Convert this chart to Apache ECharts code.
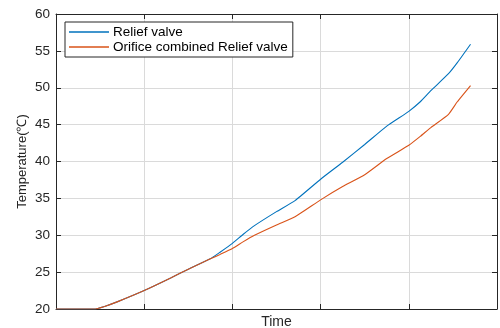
<!DOCTYPE html>
<html>
<head>
<meta charset="utf-8">
<script src="https://cdn.jsdelivr.net/npm/echarts@6/dist/echarts.min.js"></script>
<style>
  html, body { margin: 0; padding: 0; background: #fff; }
  #container { width: 500px; height: 328px; }
</style>
</head>
<body>
<div id="container"></div>
<script>
// time positions (axis has no labels, 0..5)
var timeValues = [0, 0.43, 0.55, 0.7, 1.0, 1.3, 1.5, 1.75, 1.86, 2.0, 2.12, 2.25, 2.5, 2.71, 3.0, 3.25, 3.5, 3.75, 4.0, 4.13, 4.25, 4.45, 4.55, 4.7];
var reliefValve = [20, 20, 20.35, 21.0, 22.5, 24.2, 25.4, 26.8, 27.7, 28.9, 30.1, 31.3, 33.2, 34.7, 37.6, 39.9, 42.3, 44.8, 46.8, 48.1, 49.6, 51.9, 53.4, 55.9];
var orificeRelief = [20, 20, 20.35, 21.0, 22.5, 24.2, 25.4, 26.8, 27.4, 28.2, 29.1, 30.0, 31.4, 32.5, 34.8, 36.6, 38.2, 40.4, 42.2, 43.4, 44.6, 46.4, 48.1, 50.3];
var seriesNames = ['Relief valve', 'Orifice combined Relief valve'];
var yTicks = [20, 25, 30, 35, 40, 45, 50, 55, 60];

function pairs(ys) {
    return timeValues.map(function(t, i) { return [t, ys[i]]; });
}

var font = '"Liberation Sans", Arial, sans-serif';
var axisColor = '#262626';
var gridColor = '#dadada';

var myChart = echarts.init(document.getElementById('container'));
myChart.setOption({
    animation: false,
    textStyle: { fontFamily: font },
    grid: { left: 56, right: 3, top: 14, bottom: 19, outerBoundsMode: 'none', containLabel: false },
    legend: {
        orient: 'vertical',
        left: 65,
        top: 22,
        padding: [3, 5, 3, 4],
        itemGap: 1,
        itemWidth: 40,
        itemHeight: 1.5,
        icon: 'rect',
        borderColor: axisColor,
        borderWidth: 1,
        backgroundColor: '#fff',
        textStyle: { fontFamily: font, fontSize: 13.5, color: '#000', padding: [0, 0, 0, -1] },
        data: seriesNames
    },
    xAxis: [{
        type: 'value',
        min: 0,
        max: 5,
        interval: 1,
        name: 'Time',
        nameLocation: 'middle',
        nameGap: 6,
        nameTextStyle: { fontSize: 14, color: axisColor, verticalAlign: 'top' },
        axisLine: { onZero: false, lineStyle: { color: axisColor, width: 1 } },
        axisTick: { inside: true, length: 5, lineStyle: { color: axisColor } },
        axisLabel: { show: false },
        splitLine: { show: true, lineStyle: { color: gridColor, width: 1 } }
    }, {
        type: 'value',
        position: 'top',
        min: 0,
        max: 5,
        interval: 1,
        axisLine: { onZero: false, lineStyle: { color: axisColor, width: 1 } },
        axisTick: { inside: true, length: 5, lineStyle: { color: axisColor } },
        axisLabel: { show: false },
        splitLine: { show: false }
    }],
    yAxis: [{
        type: 'value',
        min: yTicks[0],
        max: yTicks[yTicks.length - 1],
        interval: 5,
        name: 'Temperature(℃)',
        nameLocation: 'middle',
        nameGap: 27,
        nameMoveOverlap: false,
        nameTextStyle: { fontSize: 13, color: axisColor },
        axisLine: { show: true, onZero: false, lineStyle: { color: axisColor, width: 1 } },
        axisTick: { show: true, inside: true, length: 5, lineStyle: { color: axisColor } },
        axisLabel: { margin: 6, fontSize: 13.5, color: axisColor, fontFamily: font },
        splitLine: { show: true, lineStyle: { color: gridColor, width: 1 } }
    }, {
        type: 'value',
        position: 'right',
        min: yTicks[0],
        max: yTicks[yTicks.length - 1],
        interval: 5,
        axisLine: { show: true, onZero: false, lineStyle: { color: axisColor, width: 1 } },
        axisTick: { show: true, inside: true, length: 5, lineStyle: { color: axisColor } },
        axisLabel: { show: false },
        splitLine: { show: false }
    }],
    series: [{
        name: seriesNames[0],
        type: 'line',
        showSymbol: false,
        symbol: 'none',
        smooth: 0.15,
        color: '#0072BD',
        lineStyle: { width: 1.1 },
        data: pairs(reliefValve)
    }, {
        name: seriesNames[1],
        type: 'line',
        showSymbol: false,
        symbol: 'none',
        smooth: 0.15,
        color: '#D95319',
        lineStyle: { width: 1.1 },
        data: pairs(orificeRelief)
    }]
});
</script>
</body>
</html>
